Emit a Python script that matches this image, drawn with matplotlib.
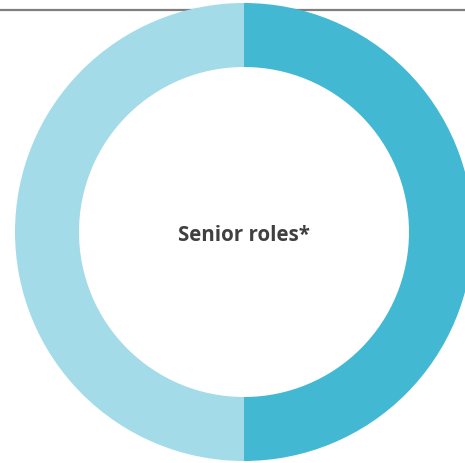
import matplotlib.pyplot as plt

labels = ['Right', 'Left']
shares = [50, 50]
colors = ['#43B8D3', '#A3DBE9']
center_label = 'Senior roles*'

W, H = 465, 464
fig = plt.figure(figsize=(W / 100, H / 100), dpi=100)
ax = fig.add_axes([0, 0, 1, 1])

# rule at the top, behind the ring
ax.plot([0, W], [H - 10.5, H - 10.5], color='#7f7f7f', lw=1.6, zorder=0,
        solid_capstyle='butt')

ax.pie(shares, colors=colors, startangle=90, counterclock=False,
       center=(244, H - 233), radius=229, frame=True,
       wedgeprops=dict(width=64, linewidth=0))

ax.text(244, H - 236, center_label, ha='center', va='center',
        fontsize=14.8, fontweight='bold', color='#404040',
        family='Open Sans')

ax.set_xlim(0, W)
ax.set_ylim(0, H)
ax.set_aspect('equal')
ax.axis('off')

fig.savefig('out.png', dpi=100)
